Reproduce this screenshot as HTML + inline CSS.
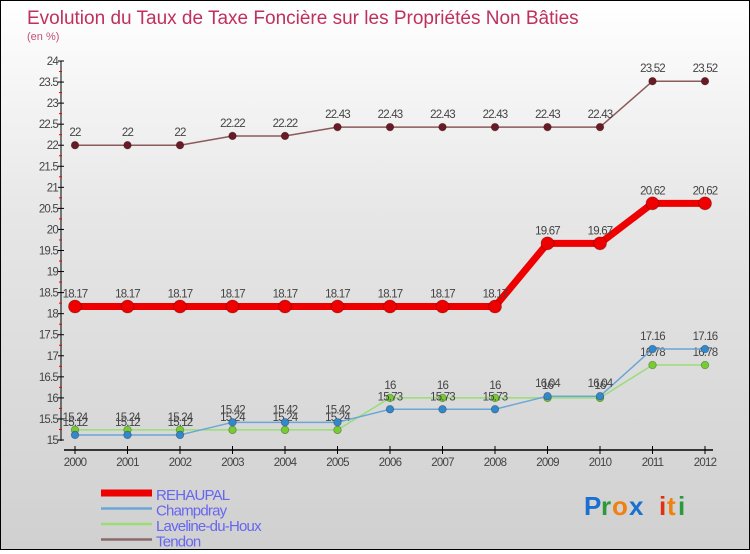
<!DOCTYPE html>
<html><head><meta charset="utf-8">
<style>
html,body{margin:0;padding:0;}
body{width:750px;height:550px;overflow:hidden;font-family:"Liberation Sans",sans-serif;}
#wrap{position:relative;width:748px;height:548px;border:1px solid #000;background:linear-gradient(#ffffff,#e6e6e6 40%,#d0d0d0);}
</style></head>
<body>
<div id="wrap">
<svg id="chart" width="748" height="548" xmlns="http://www.w3.org/2000/svg">
<text x="26" y="23" font-size="19" fill="#c0305c">Evolution du Taux de Taxe Foncière sur les Propriétés Non Bâties</text>
<text x="26" y="39" font-size="11" fill="#c0507a">(en %)</text>
<g id="axes"></g>
<g id="series"></g>
<g id="legend"></g>
<g font-size="26" font-weight="bold">
<text x="583" y="514" fill="#1a6fd0">P</text><text x="600" y="514" fill="#2a9a3a">r</text><text x="611" y="514" fill="#f08010">o</text><text x="628" y="514" fill="#1a6fd0">x</text><text x="658" y="514" fill="#e03010">i</text><text x="666" y="514" fill="#f08010">t</text><text x="677" y="514" fill="#2a9a3a">i</text>
</g>
</svg>
</div>
<script>
const years=["2000","2001","2002","2003","2004","2005","2006","2007","2008","2009","2010","2011","2012"];
const rehaupal=[18.17,18.17,18.17,18.17,18.17,18.17,18.17,18.17,18.17,19.67,19.67,20.62,20.62];
const champdray=[15.12,15.12,15.12,15.42,15.42,15.42,15.73,15.73,15.73,16.04,16.04,17.16,17.16];
const laveline=[15.24,15.24,15.24,15.24,15.24,15.24,16,16,16,16,16,16.78,16.78];
const tendon=[22,22,22,22.22,22.22,22.43,22.43,22.43,22.43,22.43,22.43,23.52,23.52];
const yTicks=["15","15.5","16","16.5","17","17.5","18","18.5","19","19.5","20","20.5","21","21.5","22","22.5","23","23.5","24"];
const NS="http://www.w3.org/2000/svg";
const yMin=15,yMax=24,yBot=439,yTop=60,x0=74,xStep=52.5;
function X(i){return x0+i*xStep;}
function Y(v){return yBot-(v-yMin)/(yMax-yMin)*(yBot-yTop);}
function mk(tag,attrs,parent,txt){const e=document.createElementNS(NS,tag);for(const k in attrs)e.setAttribute(k,attrs[k]);if(txt!==undefined)e.textContent=txt;parent.appendChild(e);return e;}
const axes=document.getElementById('axes');
let e=mk('line',{x1:60,y1:yTop,x2:60,y2:yBot+1,stroke:'#000','stroke-width':1},axes);


e=mk('line',{x1:63,y1:449,x2:712,y2:449,stroke:'#000','stroke-width':1.5},axes);


yTicks.forEach(function(t){const v=parseFloat(t),y=Y(v);
mk('line',{x1:57,y1:y,x2:63,y2:y,stroke:'#000'},axes);
const l=mk('text',{x:57,y:y+4,'text-anchor':'end','font-size':11.5,fill:'#444','letter-spacing':'-0.8'},axes,t);


if(v<yMax){mk('line',{x1:58,y1:Y(v+0.25),x2:61,y2:Y(v+0.25),stroke:'#e00'},axes);}
});
years.forEach(function(yr,i){mk('line',{x1:X(i),y1:445,x2:X(i),y2:453,stroke:'#000'},axes);
const l=mk('text',{x:X(i),y:465,'text-anchor':'middle','font-size':11.5,fill:'#444','letter-spacing':'-0.8'},axes,yr);

});
const ser=document.getElementById('series');
function draw(vals,name,color,lw,dot,dotFill){
const g=mk('g',{},ser);


const pts=vals.map(function(v,i){return X(i)+','+Y(v);}).join(' ');
mk('polyline',{points:pts,fill:'none',stroke:color,'stroke-width':lw,'stroke-linejoin':'round'},g);
vals.forEach(function(v,i){
const c=mk('circle',{cx:X(i),cy:Y(v),r:dot,fill:dotFill,stroke:'rgba(0,0,0,0.3)','stroke-width':0.8},g);


const t=mk('text',{x:X(i),y:Y(v)-9,'text-anchor':'middle','font-size':11.5,fill:'#444','letter-spacing':'-0.8'},g,String(v));


});}
draw(tendon,'tendon','#8b5a5a',1.5,3.8,'#6a1a24');
draw(laveline,'laveline-du-houx','#99dd77',1.5,3.8,'#77cc33');
draw(champdray,'champdray','#6aa6d6',1.5,3.8,'#3388cc');
draw(rehaupal,'rehaupal','#ee0000',7,6.5,'#ee0000');
const leg=document.getElementById('legend');
const items=[["REHAUPAL","#ee0000",7],["Champdray","#6aa6d6",2.5],["Laveline-du-Houx","#99dd77",2.5],["Tendon","#8b6a6a",2.5]];
items.forEach(function(it,i){const y=492+i*15.5;
const g=mk('g',{},leg);


mk('line',{x1:100,y1:y,x2:151,y2:y,stroke:it[1],'stroke-width':it[2]},g);
mk('text',{x:155,y:y+7,'font-size':15,fill:'#6666ee','letter-spacing':'-0.8'},g,it[0]);});
</script>
</body></html>
